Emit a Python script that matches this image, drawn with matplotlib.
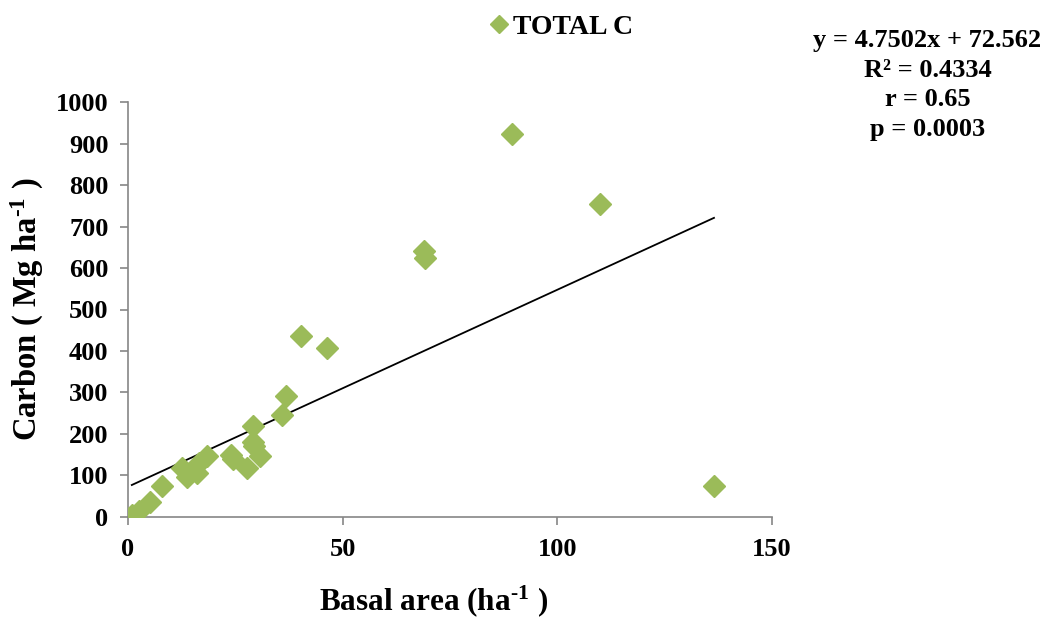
import matplotlib
matplotlib.use('Agg')
import numpy as np
import matplotlib.pyplot as plt

# basal area (ha-1) and total carbon (Mg ha-1)
basal_area = [0.9, 2.6, 5.1, 8.0, 12.5, 13.7, 16.1, 16.6, 18.3, 24.0, 24.5,
              27.8, 29.2, 29.2, 29.4, 30.7, 35.8, 36.7, 40.3, 46.4, 69.0,
              69.2, 89.4, 110.0, 136.5]
total_c = [5, 13, 35, 75, 119, 95, 106, 130, 147, 150, 140,
           119, 219, 181, 170, 147, 245, 291, 436, 407, 642,
           625, 923, 755, 75]

slope, intercept = 4.7502, 72.562
stats_lines = ['y = 4.7502x + 72.562', 'R² = 0.4334', 'r = 0.65', 'p = 0.0003']

plt.rcParams['font.family'] = 'Liberation Serif'
plt.rcParams['font.weight'] = 'bold'
plt.rcParams['mathtext.fontset'] = 'custom'
plt.rcParams['mathtext.rm'] = 'Liberation Serif:bold'
plt.rcParams['mathtext.it'] = 'Liberation Serif:bold'
plt.rcParams['mathtext.bf'] = 'Liberation Serif:bold'

green = '#9BBB59'
grey = '#868686'

fig = plt.figure(figsize=(10.54, 6.19), dpi=100)
ax = fig.add_axes([0.1214, 0.165, 0.611, 0.670])

ax.plot(basal_area, total_c, 'D', color=green, markersize=11, label='TOTAL C', zorder=3)
xl = np.array([min(basal_area), max(basal_area)])
ax.plot(xl, slope * xl + intercept, color='black', lw=1.3, zorder=2)

ax.set_xlim(0, 150)
ax.set_ylim(0, 1000)
ax.set_xticks([0, 50, 100, 150])
ax.set_yticks(range(0, 1001, 100))
for s in ['top', 'right']:
    ax.spines[s].set_visible(False)
for s in ['left', 'bottom']:
    ax.spines[s].set_color(grey)
    ax.spines[s].set_linewidth(1.2)
ax.tick_params(colors=grey, direction='out', length=6, width=1.2, labelcolor='black',
               labelsize=19)
ax.tick_params(axis='x', pad=9)
ax.tick_params(axis='y', pad=8)
for lab in ax.get_xticklabels() + ax.get_yticklabels():
    lab.set_fontweight('bold')

ax.set_xlabel(r'Basal area (ha$^{\text{-1}}$ )', fontsize=22.5, fontweight='bold')
ax.xaxis.set_label_coords(0.474, -0.16)
ax.set_ylabel(r'Carbon ( Mg ha$^{\text{-1}}$ )', fontsize=23.5, fontweight='bold', labelpad=7)

leg = fig.legend(loc='center', bbox_to_anchor=(0.524, 0.956), frameon=False,
                 fontsize=20, handletextpad=-0.5, markerscale=0.8)

fig.text(0.88, 0.953, '\n'.join(stats_lines), ha='center', va='top', fontsize=19,
         fontweight='bold', linespacing=1.36)

fig.savefig('out.png', dpi=100)
